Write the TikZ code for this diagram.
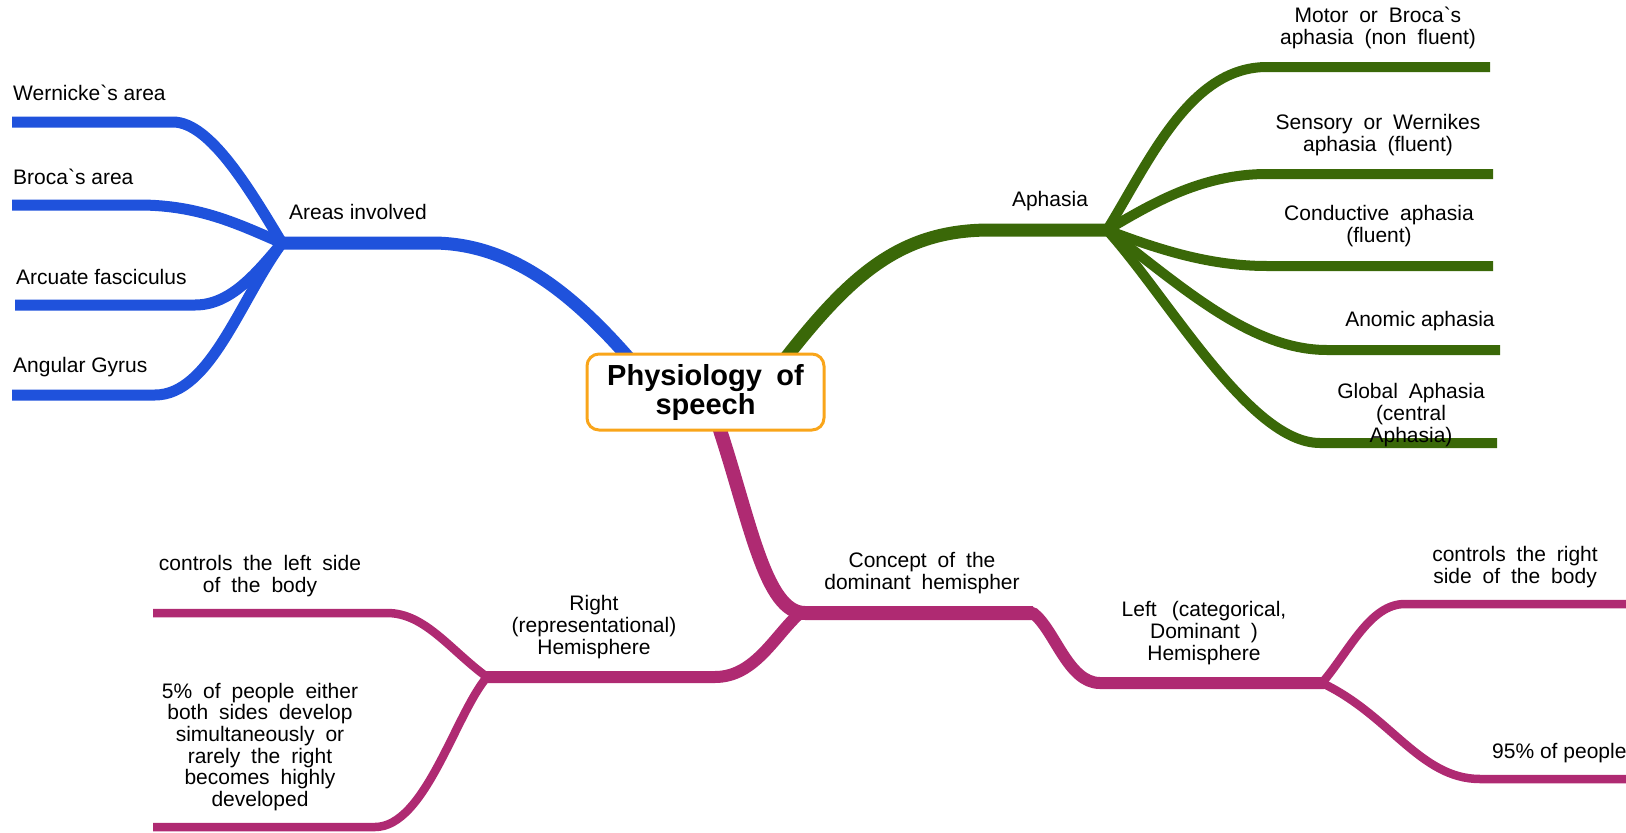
\documentclass[tikz,border=0pt]{standalone}
\usepackage{fontspec}
\setmainfont{Liberation Sans}
\usetikzlibrary{backgrounds,calc}
\definecolor{mblue}{HTML}{1F52DC}
\definecolor{mgreen}{HTML}{3A6808}
\definecolor{mmag}{HTML}{AF2A72}
\definecolor{morange}{HTML}{F9A51A}
\begin{document}
\begin{tikzpicture}[x=1pt,y=-1pt,
  lbl/.style={font=\fontsize{21}{21.7}\selectfont, inner sep=0pt, text=black},
  wlbl/.style={lbl, align=center, execute at begin node={\spaceskip=0.52em\relax}},
  rootbox/.style={draw=morange, line width=3pt, fill=white, rounded corners=12pt,
    minimum width=237pt, minimum height=76pt, inner sep=0pt, align=center,
    font=\fontsize{29}{29}\selectfont\bfseries,
    execute at begin node={\spaceskip=0.5em\relax}},
  branch/.style={line cap=butt, line join=round},
  bmain/.style={branch, mblue, line width=13pt},
  bsub/.style={branch, mblue, line width=11pt},
  gmain/.style={branch, mgreen, line width=13pt},
  gsub/.style={branch, mgreen, line width=10pt},
  mmain/.style={branch, mmag, line width=14pt},
  mmid/.style={branch, mmag, line width=12pt},
  msub/.style={branch, mmag, line width=8.5pt}
]
\useasboundingbox (0,0) rectangle (1626,833);

% central node
\node[rootbox] (root) at (705.5,392) {Physiology of\\speech};

% hub and end coordinates
\coordinate (rA) at (634,364);
\coordinate (rB) at (781,364);
\coordinate (rC) at (718,424);
\coordinate (hA) at (282,243);
\coordinate (hB) at (1107,230);
\coordinate (hC) at (800,613);
\coordinate (hD) at (1322,683);
\coordinate (hE) at (487,677);

\coordinate (wE) at (12,122);   \coordinate (wC) at (173,122);
\coordinate (bE) at (12,205);   \coordinate (bC) at (139,205);
\coordinate (aE) at (15,305);   \coordinate (aC) at (195,305);
\coordinate (gE) at (12,395);   \coordinate (gC) at (155,395);
\coordinate (areaC) at (432,243);

\coordinate (aphC) at (990,230);
\coordinate (moC) at (1267,67);   \coordinate (moE) at (1490,67);
\coordinate (seC) at (1267,174);  \coordinate (seE) at (1493,174);
\coordinate (coC) at (1267,266);  \coordinate (coE) at (1493,266);
\coordinate (anC) at (1327,350);  \coordinate (anE) at (1500,350);
\coordinate (glC) at (1320,443);  \coordinate (glE) at (1497,443);

\coordinate (cpC) at (805,613);   \coordinate (cpE) at (1033,613);
\coordinate (lfC) at (1100,683);
\coordinate (rtC) at (715,677);
\coordinate (clC) at (387,613);   \coordinate (clE) at (153,613);
\coordinate (fvC) at (375,827);   \coordinate (fvE) at (153,827);
\coordinate (crC) at (1405,604);  \coordinate (crE) at (1626,604);
\coordinate (npC) at (1480,779);  \coordinate (npE) at (1626,779);

\begin{scope}[on background layer]
% blue
\draw[bmain] (rA) .. controls (572,292) and (510,243) .. (areaC) -- ($(hA)+(-3,0)$);
\draw[bsub] (hA) .. controls (250,190) and (210,122) .. (wC) -- (wE);
\draw[bsub] (hA) .. controls (240,225) and (200,205) .. (bC) -- (bE);
\draw[bsub] (hA) .. controls (255,275) and (230,305) .. (aC) -- (aE);
\draw[bsub] (hA) .. controls (240,300) and (210,395) .. (gC) -- (gE);
% green
\draw[gmain] (rB) .. controls (850,275) and (900,230) .. (aphC) -- ($(hB)+(3,0)$);
\draw[gsub] (hB) .. controls (1150,160) and (1190,67) .. (moC) -- (moE);
\draw[gsub] (hB) .. controls (1150,205) and (1200,174) .. (seC) -- (seE);
\draw[gsub] (hB) .. controls (1160,250) and (1210,266) .. (coC) -- (coE);
\draw[gsub] (hB) .. controls (1180,285) and (1250,350) .. (anC) -- (anE);
\draw[gsub] (hB) .. controls (1170,300) and (1250,443) .. (glC) -- (glE);
% magenta
\draw[mmain] (rC) .. controls (750,520) and (765,613) .. (cpC) -- (cpE);
\draw[mmid] ($(cpE)+(-3,0)$) -- (cpE) .. controls (1055,630) and (1068,683) .. (lfC) -- ($(hD)+(2,0)$);
\draw[mmid] (hC) .. controls (775,635) and (755,677) .. (rtC) -- ($(hE)+(-2,0)$);
\draw[msub] (hE) .. controls (450,650) and (425,613) .. (clC) -- (clE);
\draw[msub] (hE) .. controls (455,715) and (425,827) .. (fvC) -- (fvE);
\draw[msub] (hD) .. controls (1350,650) and (1370,604) .. (crC) -- (crE);
\draw[msub] (hD) .. controls (1390,715) and (1420,779) .. (npC) -- (npE);
\end{scope}

% blue labels
\node[lbl, anchor=west] (lwer) at (13,93) {Wernicke\textasciigrave s area};
\node[lbl, anchor=west] (lbro) at (13,177) {Broca\textasciigrave s area};
\node[lbl, anchor=west] (larc) at (16,277) {Arcuate fasciculus};
\node[lbl, anchor=west] (lang) at (13,367) {Angular Gyrus};
\node[lbl] (larea) at (358,212) {Areas involved};

% green labels
\node[lbl] (laph) at (1050,201) {Aphasia};
\node[wlbl] (lmot) at (1378,28) {Motor or Broca\textasciigrave s\\aphasia (non fluent)};
\node[wlbl] (lsen) at (1378,135) {Sensory or Wernikes\\aphasia (fluent)};
\node[wlbl] (lcon) at (1379,226) {Conductive aphasia\\(fluent)};
\node[lbl] (lano) at (1420,321) {Anomic aphasia};
\node[wlbl] (lglo) at (1411,415) {Global Aphasia\\(central\\Aphasia)};

% magenta labels
\node[wlbl] (lcpt) at (922,573) {Concept of the\\dominant hemispher};
\node[wlbl] (lrgt) at (594,627) {Right\\(representational)\\Hemisphere};
\node[wlbl] (llft) at (1204,633) {Left\hspace{0.2em} (categorical,\\Dominant )\\Hemisphere};
\node[wlbl] (lcl) at (260,576) {controls the left side\\of the body};
\node[wlbl] (lfv) at (260,747) {5\% of people either\\both sides develop\\simultaneously or\\rarely the right\\becomes highly\\developed};
\node[wlbl] (lcr) at (1515,567) {controls the right\\side of the body};
\node[lbl, anchor=west] (lnp) at (1492,753) {95\% of people};
\end{tikzpicture}
\end{document}
